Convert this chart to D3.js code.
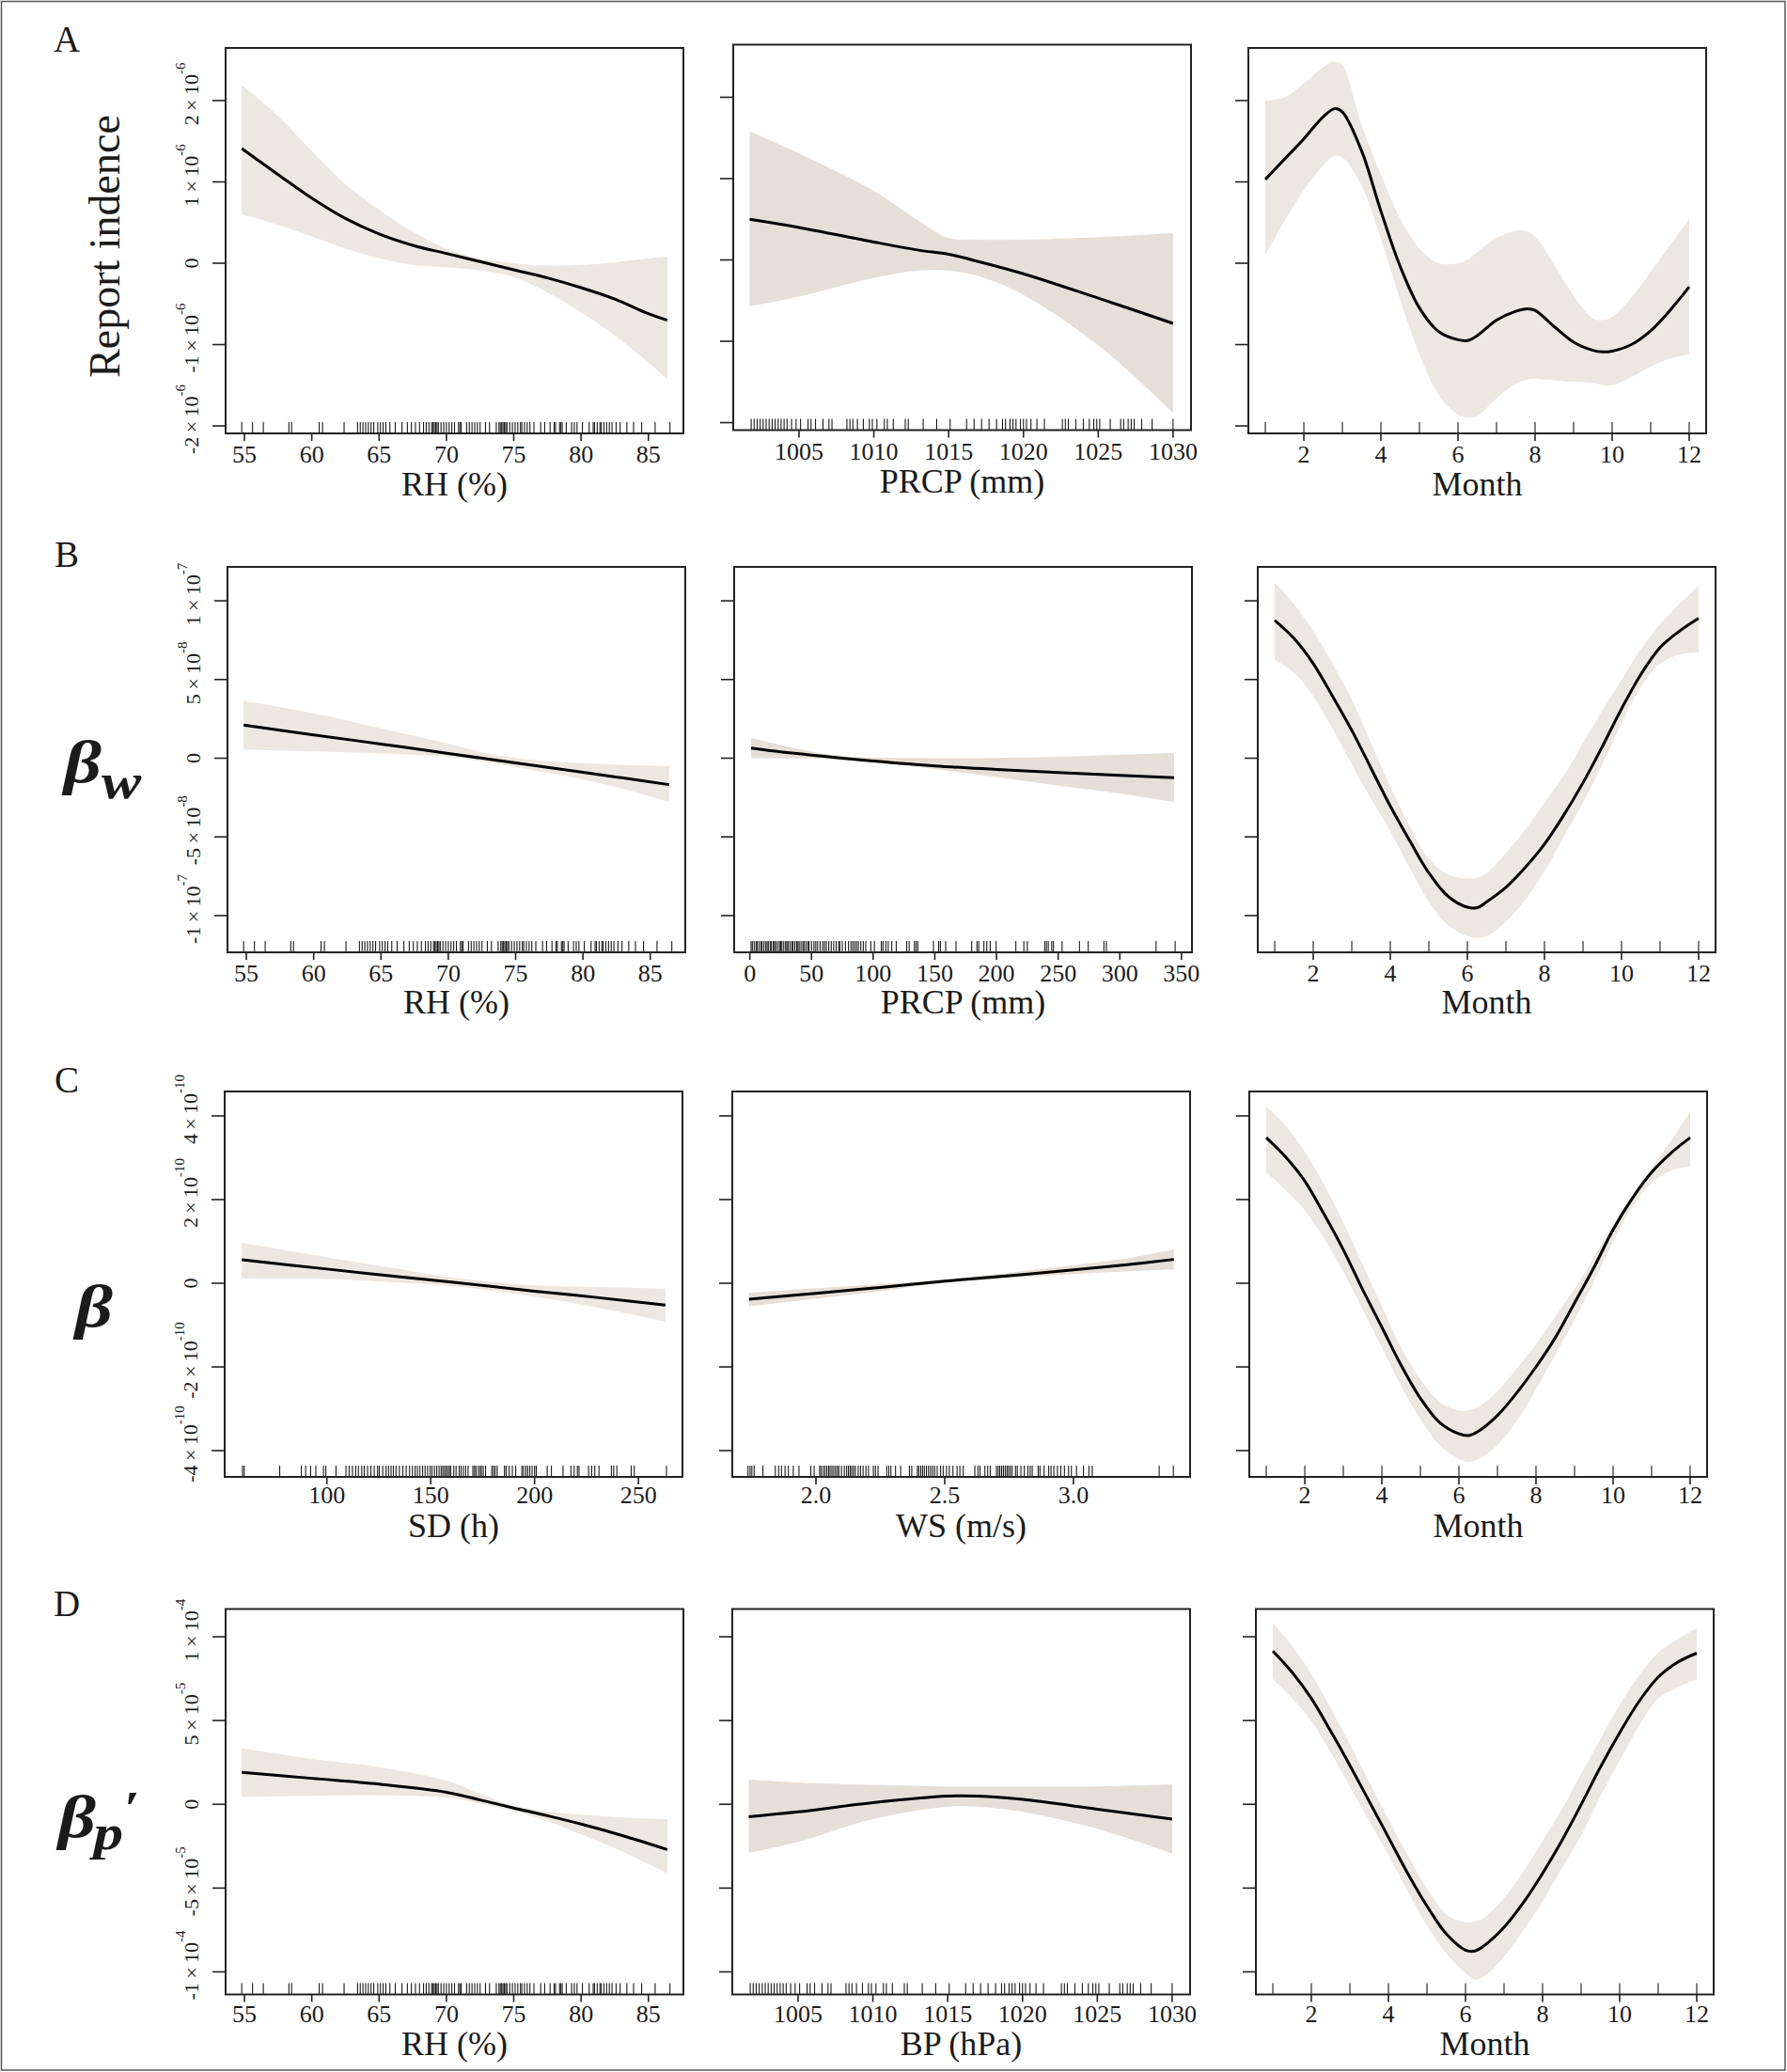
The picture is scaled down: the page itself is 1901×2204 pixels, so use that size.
<!DOCTYPE html>
<html><head><meta charset="utf-8">
<script src="https://cdn.jsdelivr.net/npm/d3@7"></script>
<style>
body{margin:0;background:#fff}
svg{display:block}
text{font-family:"Liberation Serif","Times New Roman",serif;fill:#1b1b1b}
</style>
</head><body>
<script>
// ---------------- observed covariate values (rug) ----------------
const rugRH = [54.8,55.6,56.4,58.3,58.5,60.55,60.8,62.4,63.4,63.6,63.8,64.0,64.2,64.4,64.6,64.9,65.1,65.3,65.5,65.8,66.2,66.7,67.1,67.4,67.7,68.0,68.3,68.5,68.7,68.9,69.0,69.1,69.2,69.3,69.4,69.6,69.8,70.0,70.2,70.4,70.6,70.9,71.0,71.1,71.5,71.7,71.9,72.1,72.3,72.5,72.9,73.2,73.7,73.9,74.0,74.1,74.2,74.3,74.4,74.5,74.7,74.9,75.1,75.3,75.5,75.6,75.8,76.0,76.2,76.5,77.0,77.3,77.7,78.0,78.1,78.4,78.5,78.6,78.9,79.3,79.5,79.7,80.1,80.6,80.9,81.0,81.2,81.4,81.5,81.7,81.9,82.1,82.3,82.6,82.9,83.4,83.9,84.5,85.5,86.6];
const rugBP = [1001.8,1002.0,1002.2,1002.4,1002.6,1002.8,1003.0,1003.2,1003.4,1003.6,1003.8,1004.0,1004.2,1004.5,1004.8,1005.1,1005.6,1005.8,1006.1,1006.6,1007.0,1007.2,1008.2,1008.4,1008.6,1008.9,1009.3,1009.7,1009.9,1010.2,1010.7,1010.9,1011.3,1012.1,1012.3,1013.3,1014.2,1015.1,1016.2,1016.7,1017.2,1017.7,1018.2,1018.6,1018.8,1019.1,1019.3,1019.5,1019.8,1020.0,1020.2,1020.5,1020.9,1021.4,1022.6,1022.8,1023.0,1023.5,1024.0,1024.4,1024.7,1024.9,1025.1,1025.8,1026.5,1026.7,1027.0,1027.2,1027.4,1027.9,1028.6,1030.0];
const rugPRCP = [1,2,3.5,5,6,7.5,9,10,11.5,13,14,15,16.5,17.5,19,20,21,22.5,24,25,26,27.5,29,30,31,32.5,34,35,36.5,38,39,40,41.5,43,44,45.5,47,48,50,52,53.5,55,57,59,60.5,62,64,66,68,70,72,73,75,77.5,80,82,83.5,85,86.5,88,90,92,94,98.1,101,106.6,108,110.3,112.2,115.1,118.7,127.2,129.2,133.4,134.8,136.2,148.9,153.1,154.5,158.8,167.2,179.9,184.2,185.6,189.8,192.1,194.9,199.7,215.7,222.2,225,239.1,240.5,242,244.8,246.2,253.2,267.3,274.4,287.1,289.1,329.4,344.9];
const rugSD = [59.4,60.2,77.3,87.7,89.8,92.2,94.7,98.4,99.5,104.4,109.2,110.7,112.3,113.9,115.2,116.8,118.0,119.6,121.2,122.8,124.4,125.2,126.9,128.5,129.7,130.9,132.0,133.3,134.9,136.6,138.2,139.8,141.2,142.5,143.6,144.8,146.1,147.3,148.5,149.7,150.6,151.8,152.9,154.0,155.0,155.8,156.6,157.4,158.2,159.0,159.6,161.1,162.2,163.7,164.6,165.7,166.8,168.0,170.3,171.1,171.8,172.9,173.8,174.4,175.3,176.4,179.4,180.2,181.0,182.0,185.5,186.3,187.8,189.3,190.9,193.9,194.7,195.8,196.7,197.7,198.8,200.0,200.8,206.1,208.1,213.7,217.5,219.1,220.6,221.4,226.0,227.5,229.0,231.0,237.0,238.1,239.6,246.5,248.0,263.5];
const rugWS = [1.736,1.744,1.751,1.760,1.794,1.842,1.855,1.866,1.880,1.893,1.912,1.934,1.980,1.993,2.014,2.020,2.028,2.035,2.042,2.049,2.055,2.062,2.069,2.076,2.083,2.089,2.099,2.110,2.119,2.126,2.133,2.139,2.146,2.153,2.164,2.173,2.183,2.194,2.204,2.223,2.231,2.241,2.275,2.283,2.291,2.309,2.329,2.363,2.372,2.394,2.399,2.407,2.414,2.421,2.429,2.437,2.445,2.453,2.461,2.471,2.484,2.494,2.507,2.518,2.532,2.548,2.559,2.572,2.617,2.629,2.637,2.656,2.667,2.677,2.701,2.708,2.714,2.721,2.728,2.735,2.742,2.748,2.755,2.762,2.775,2.782,2.796,2.809,2.823,2.832,2.840,2.863,2.870,2.886,2.904,2.913,2.924,2.938,2.951,2.965,2.981,2.992,3.012,3.039,3.060,3.073,3.333,3.388];
const rugMonth = [1,2,3,4,5,6,7,8,9,10,11,12];

// ---------------- axis ticks ----------------
const ticksRH = [55,60,65,70,75,80,85];
const ticksBP = [1005,1010,1015,1020,1025,1030];
const ticksPRCP = [0,50,100,150,200,250,300,350];
const ticksSD = [100,150,200,250];
const ticksWS = [2.0,2.5,3.0];
const ticksMonth = [2,4,6,8,10,12];
const domRH = [53.6,87.6], domBP = [1000.6,1031.2], domPRCP = [-12.7,358.5],
      domSD = [50.8,271.2], domWS = [1.675,3.453], domMonth = [0.56,12.44];

// y ticks (in row units) and their labels [mantissa, exponent]
const yTicksA = [-2,-1,0,1,2];
const yLabA = [["-2","-6"],["-1","-6"],["0",""],["1","-6"],["2","-6"]];
const yTicksB = [-10,-5,0,5,10];
const yLabB = [["-1","-7"],["-5","-8"],["0",""],["5","-8"],["1","-7"]];
const yTicksC = [-4,-2,0,2,4];
const yLabC = [["-4","-10"],["-2","-10"],["0",""],["2","-10"],["4","-10"]];
const yTicksD = [-10,-5,0,5,10];
const yLabD = [["-1","-4"],["-5","-5"],["0",""],["5","-5"],["1","-4"]];
const yDomA = [-2.092,2.647];   // ×1e-6
const yDomB = [-12.335,12.156]; // ×1e-8
const yDomC = [-4.629,4.584];   // ×1e-10
const yDomD = [-11.348,11.657]; // ×1e-5

// ---------------- Row A: Report incidence (×1e-6) ----------------
const aRH_x   = [54.8,57.5,60,62.5,65,67.5,70,72.5,75,77.5,80,82.5,85,86.4];
const aRH_fit = [1.41,1.09,0.80,0.55,0.36,0.22,0.12,0.02,-0.08,-0.18,-0.30,-0.44,-0.62,-0.70];
const aRH_lo  = [0.60,0.47,0.33,0.18,0.06,-0.02,-0.05,-0.09,-0.17,-0.36,-0.60,-0.89,-1.22,-1.43];
const aRH_hi  = [2.19,1.81,1.38,0.97,0.66,0.39,0.18,0.06,0.00,-0.03,-0.02,0.01,0.06,0.08];

const aBP_x   = [1001.7,1005,1010,1013,1015,1017,1020,1025,1030];
const aBP_fit = [0.50,0.40,0.22,0.12,0.07,-0.02,-0.17,-0.47,-0.78];
const aBP_lo  = [-0.57,-0.45,-0.22,-0.13,-0.13,-0.20,-0.43,-1.05,-1.88];
const aBP_hi  = [1.58,1.31,0.85,0.48,0.27,0.25,0.25,0.28,0.33];

const aMon_x   = [1,1.5,2,2.5,2.8,3,3.5,4,4.5,5,5.5,6,6.25,6.5,7,7.5,7.8,8,8.5,9,9.5,9.75,10,10.5,11,11.5,12];
const aMon_fit = [1.03,1.28,1.53,1.80,1.90,1.86,1.38,0.64,-0.04,-0.55,-0.84,-0.94,-0.95,-0.89,-0.70,-0.59,-0.56,-0.58,-0.78,-0.97,-1.07,-1.09,-1.08,-1.00,-0.83,-0.58,-0.29];
const aMon_lo  = [0.10,0.52,0.90,1.20,1.32,1.30,0.95,0.30,-0.45,-1.12,-1.62,-1.86,-1.90,-1.88,-1.66,-1.48,-1.43,-1.42,-1.44,-1.46,-1.47,-1.50,-1.50,-1.40,-1.27,-1.17,-1.12];
const aMon_hi  = [2.00,2.04,2.21,2.41,2.48,2.44,1.70,1.09,0.55,0.18,0.00,0.00,0.04,0.14,0.31,0.40,0.39,0.33,-0.02,-0.40,-0.68,-0.70,-0.66,-0.42,-0.11,0.22,0.55];

// ---------------- Row B: beta_w (×1e-8) ----------------
const bRH_x   = [54.8,60,65,70,73,75,78,80,83,86.4];
const bRH_fit = [2.10,1.48,0.90,0.30,-0.06,-0.30,-0.66,-0.90,-1.26,-1.68];
const bRH_lo  = [0.54,0.43,0.30,0.08,-0.25,-0.55,-1.02,-1.35,-1.95,-2.77];
const bRH_hi  = [3.64,2.85,1.90,0.92,0.28,0.02,-0.22,-0.32,-0.43,-0.50];

const bPR_x   = [1,25,50,75,100,150,200,250,300,344];
const bPR_fit = [0.64,0.40,0.20,0.00,-0.18,-0.49,-0.71,-0.91,-1.09,-1.24];
const bPR_lo  = [0.00,-0.01,-0.02,-0.10,-0.26,-0.69,-1.20,-1.73,-2.24,-2.79];
const bPR_hi  = [1.29,0.85,0.42,0.14,0.04,0.00,0.02,0.09,0.22,0.33];

const monX = [1,1.5,2,2.5,3,3.5,4,4.5,5,5.5,6,6.25,6.5,7,7.5,8,8.5,9,9.5,10,10.5,11,11.5,12];
const bMon_fit = [8.76,7.61,6.01,3.94,1.77,-0.64,-3.05,-5.23,-7.29,-8.78,-9.47,-9.50,-9.13,-8.21,-6.95,-5.46,-3.62,-1.56,0.73,3.14,5.32,7.04,8.07,8.88];
const bMon_lo  = [6.24,5.44,3.94,1.88,-0.41,-2.59,-4.66,-6.95,-9.13,-10.62,-11.31,-11.42,-11.31,-10.39,-9.01,-7.18,-5.00,-2.82,-0.41,2.22,4.52,6.01,6.58,6.70];
const bMon_hi  = [11.17,9.79,8.07,6.01,3.72,0.96,-1.79,-4.31,-6.38,-7.41,-7.64,-7.60,-7.29,-6.03,-4.54,-2.82,-1.10,0.96,3.03,4.98,6.93,8.53,9.79,10.94];

// ---------------- Row C: beta (×1e-10) ----------------
const cSD_x   = [59,100,130,160,200,230,263];
const cSD_fit = [0.56,0.34,0.18,0.03,-0.19,-0.34,-0.52];
const cSD_lo  = [0.11,0.10,0.03,-0.07,-0.32,-0.58,-0.92];
const cSD_hi  = [0.97,0.62,0.38,0.14,-0.05,-0.09,-0.13];

const cWS_x   = [1.74,2.0,2.25,2.5,2.75,3.0,3.2,3.39];
const cWS_fit = [-0.38,-0.24,-0.10,0.05,0.18,0.32,0.44,0.57];
const cWS_lo  = [-0.55,-0.37,-0.19,0.01,0.12,0.22,0.28,0.33];
const cWS_hi  = [-0.23,-0.12,-0.02,0.09,0.25,0.43,0.59,0.81];

const cMon_fit = [3.48,3.02,2.44,1.65,0.80,-0.15,-1.05,-1.96,-2.75,-3.33,-3.60,-3.64,-3.54,-3.16,-2.62,-2.00,-1.30,-0.47,0.37,1.28,2.03,2.65,3.11,3.48];
const cMon_lo  = [2.65,2.23,1.74,1.07,0.28,-0.63,-1.54,-2.46,-3.25,-3.87,-4.20,-4.27,-4.20,-3.87,-3.29,-2.54,-1.71,-0.88,0.03,0.99,1.82,2.40,2.69,2.79];
const cMon_hi  = [4.23,3.77,3.15,2.36,1.45,0.45,-0.55,-1.54,-2.29,-2.83,-3.04,-3.03,-2.96,-2.58,-2.04,-1.46,-0.80,-0.13,0.61,1.40,2.11,2.77,3.40,4.10];

// ---------------- Row D: beta_p' (×1e-5) ----------------
const dRH_x   = [54.8,60,65,70,72.5,75,77.5,80,83,86.4];
const dRH_fit = [1.91,1.55,1.20,0.72,0.26,-0.22,-0.68,-1.18,-1.85,-2.70];
const dRH_lo  = [0.44,0.50,0.54,0.40,0.05,-0.42,-1.00,-1.80,-2.80,-4.10];
const dRH_hi  = [3.35,2.71,2.21,1.41,0.62,-0.08,-0.42,-0.62,-0.78,-0.88];

const dBP_x   = [1001.7,1005,1010,1015,1017,1020,1025,1030];
const dBP_fit = [-0.74,-0.45,0.10,0.49,0.49,0.29,-0.29,-0.88];
const dBP_lo  = [-2.90,-2.25,-0.88,-0.14,-0.14,-0.45,-1.46,-2.93];
const dBP_hi  = [1.48,1.31,1.17,1.07,1.07,1.07,1.07,1.19];

const dMon_fit = [9.15,7.88,6.32,4.37,2.32,0.18,-1.97,-4.12,-6.07,-7.73,-8.70,-8.75,-8.41,-7.34,-5.87,-4.12,-2.17,-0.02,2.22,4.27,6.13,7.59,8.47,9.02];
const dMon_lo  = [7.49,6.32,4.96,3.10,1.05,-1.00,-3.04,-5.19,-7.24,-8.90,-10.07,-10.45,-10.26,-9.09,-7.53,-5.78,-3.82,-1.87,0.47,2.61,4.66,6.32,7.00,7.45];
const dMon_hi  = [10.81,9.44,7.79,5.74,3.59,1.35,-0.90,-3.04,-5.00,-6.56,-7.04,-7.00,-6.75,-5.58,-4.02,-2.17,-0.31,1.83,3.88,5.93,7.69,9.05,9.83,10.52];

// ---------------- layout ----------------
const W = 1901, H = 2204, PW = 487, PH = 410;
const bandSide = "#ece7e0", bandMid = "#e6dfd8";

const rhP  = {dom:domRH, ticks:ticksRH, fmt:d=>d, rug:rugRH, title:"RH (%)"};
const monP = {dom:domMonth, ticks:ticksMonth, fmt:d=>d, rug:rugMonth, title:"Month"};

const rows = [
  {letter:"A", ydom:yDomA, yt:yTicksA, yl:yLabA, lefts:[240,780,1328], tops:[51,47.5,51], tb:31, ttl:66,
   panels:[
     Object.assign({x:aRH_x, fit:aRH_fit, lo:aRH_lo, hi:aRH_hi}, rhP),
     {dom:domBP, ticks:ticksBP, fmt:d=>d, rug:rugBP, title:"PRCP (mm)", x:aBP_x, fit:aBP_fit, lo:aBP_lo, hi:aBP_hi, mid:true},
     Object.assign({x:aMon_x, fit:aMon_fit, lo:aMon_lo, hi:aMon_hi}, monP)
   ]},
  {letter:"B", ydom:yDomB, yt:yTicksB, yl:yLabB, lefts:[242,781,1338], tops:[603,603,603], tb:31, ttl:65,
   panels:[
     Object.assign({x:bRH_x, fit:bRH_fit, lo:bRH_lo, hi:bRH_hi}, rhP),
     {dom:domPRCP, ticks:ticksPRCP, fmt:d=>d, rug:rugPRCP, title:"PRCP (mm)", x:bPR_x, fit:bPR_fit, lo:bPR_lo, hi:bPR_hi, mid:true},
     Object.assign({x:monX, fit:bMon_fit, lo:bMon_lo, hi:bMon_hi}, monP)
   ]},
  {letter:"C", ydom:yDomC, yt:yTicksC, yl:yLabC, lefts:[239,779,1329], tops:[1161,1161,1161], tb:28, ttl:64,
   panels:[
     {dom:domSD, ticks:ticksSD, fmt:d=>d, rug:rugSD, title:"SD (h)", x:cSD_x, fit:cSD_fit, lo:cSD_lo, hi:cSD_hi},
     {dom:domWS, ticks:ticksWS, fmt:d3.format(".1f"), rug:rugWS, title:"WS (m/s)", x:cWS_x, fit:cWS_fit, lo:cWS_lo, hi:cWS_hi, mid:true},
     Object.assign({x:monX, fit:cMon_fit, lo:cMon_lo, hi:cMon_hi}, monP)
   ]},
  {letter:"D", ydom:yDomD, yt:yTicksD, yl:yLabD, lefts:[240,779,1336], tops:[1711.5,1711.5,1711.5], tb:29, ttl:64,
   panels:[
     Object.assign({x:dRH_x, fit:dRH_fit, lo:dRH_lo, hi:dRH_hi}, rhP),
     {dom:domBP, ticks:ticksBP, fmt:d=>d, rug:rugBP, title:"BP (hPa)", x:dBP_x, fit:dBP_fit, lo:dBP_lo, hi:dBP_hi, mid:true},
     Object.assign({x:monX, fit:dMon_fit, lo:dMon_lo, hi:dMon_hi}, monP)
   ]}
];
const letterPos = [[57,55],[58,603],[58,1162],[57,1719]];

const svg = d3.select("body").append("svg").attr("width",W).attr("height",H);
svg.append("rect").attr("width",W).attr("height",H).attr("fill","#fff");
svg.append("rect").attr("x",1.5).attr("y",1.5).attr("width",W-3.5).attr("height",H-3.5)
   .attr("fill","none").attr("stroke","#555").attr("stroke-width",1.5);

const TS = "\u2009"; // thin space around the multiplication sign

rows.forEach((row, ri) => {
  svg.append("text").attr("x",letterPos[ri][0]).attr("y",letterPos[ri][1])
     .style("font-size","39px").text(row.letter);
  row.panels.forEach((p, ci) => {
    const left = row.lefts[ci], top = row.tops[ci];
    const g = svg.append("g").attr("transform",`translate(${left},${top})`);
    const x = d3.scaleLinear().domain(p.dom).range([0,PW]);
    const y = d3.scaleLinear().domain(row.ydom).range([PH,0]);
    const pts = p.x.map((v,i)=>({x:v, f:p.fit[i], lo:p.lo[i], hi:p.hi[i]}));
    const curve = d3.curveCatmullRom.alpha(0.5);
    g.append("path").datum(pts)
      .attr("d", d3.area().x(d=>x(d.x)).y0(d=>y(d.lo)).y1(d=>y(d.hi)).curve(curve))
      .attr("fill", p.mid ? bandMid : bandSide);
    g.append("path").datum(pts)
      .attr("d", d3.line().x(d=>x(d.x)).y(d=>y(d.f)).curve(curve))
      .attr("fill","none").attr("stroke","#000").attr("stroke-width",3);
    // rug
    g.append("g").selectAll("line").data(p.rug).join("line")
      .attr("x1",d=>x(d)).attr("x2",d=>x(d)).attr("y1",PH).attr("y2",PH-12)
      .attr("stroke","#1a1a1a").attr("stroke-width",1.1);
    // frame
    g.append("rect").attr("width",PW).attr("height",PH)
      .attr("fill","none").attr("stroke","#222").attr("stroke-width",2);
    // x axis ticks + labels
    g.append("g").selectAll("line").data(p.ticks).join("line")
      .attr("x1",d=>x(d)).attr("x2",d=>x(d)).attr("y1",PH).attr("y2",PH+8)
      .attr("stroke","#222").attr("stroke-width",1.6);
    g.append("g").selectAll("text").data(p.ticks).join("text")
      .attr("x",d=>x(d)).attr("y",PH+row.tb).attr("text-anchor","middle")
      .style("font-size","26px").text(d=>p.fmt(d));
    g.append("text").attr("x",PW/2).attr("y",PH+row.ttl).attr("text-anchor","middle")
      .style("font-size","36px").text(p.title);
    // y axis ticks
    g.append("g").selectAll("line").data(row.yt).join("line")
      .attr("x1",-14).attr("x2",0).attr("y1",d=>y(d)).attr("y2",d=>y(d))
      .attr("stroke","#222").attr("stroke-width",1.6);
    if (ci === 0) {
      row.yt.forEach((v,i) => {
        const [m,e] = row.yl[i];
        const t = g.append("text")
          .attr("transform",`translate(-29,${y(v)}) rotate(-90)`)
          .attr("x", e ? 7 : 0)
          .attr("text-anchor","middle").style("font-size","22px");
        if (e) {
          t.append("tspan").text(m + TS + "×" + TS + "10");
          t.append("tspan").attr("dy",-14).style("font-size","15px").text(e);
        } else t.text(m);
      });
    }
  });
});

// y-axis titles
svg.append("text").attr("transform","translate(127,262) rotate(-90)")
   .attr("text-anchor","middle").style("font-size","46px").text("Report indence");

const wide = (x0,y0) => `translate(${x0},${y0}) scale(1.22,1)`;
function greek(x0, y0, parts) {
  const t = svg.append("text").attr("transform", wide(x0,y0))
    .style("font-weight","bold").style("font-style","italic");
  parts.forEach(([s, size, dx, dy]) => {
    t.append("tspan").attr("dx",dx).attr("dy",dy).style("font-size",size+"px").text(s);
  });
}
greek(68, 832, [["β",64,0,0],["w",52,0,17]]);
greek(80, 1411, [["β",64,0,0]]);
greek(62, 1954, [["β",64,0,0],["p",52,-2,13],["′",50,0,-27]]);
</script>
</body></html>
